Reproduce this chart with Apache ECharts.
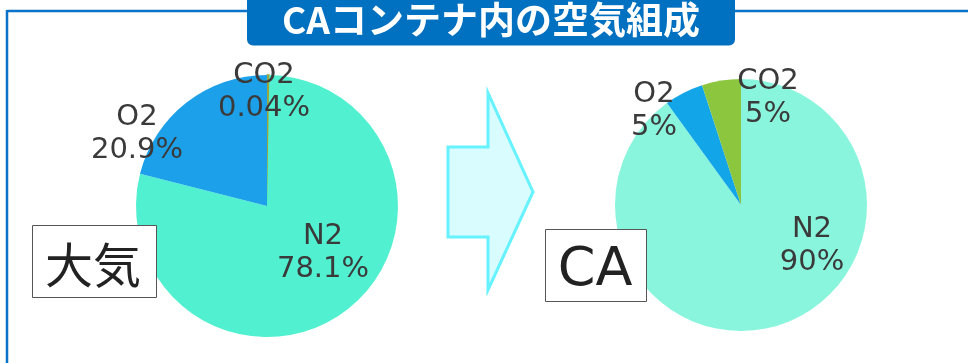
<!DOCTYPE html>
<html>
<head>
<meta charset="utf-8">
<script src="https://cdn.jsdelivr.net/npm/echarts@6/dist/echarts.min.js"></script>
<style>
html,body{margin:0;padding:0;background:#fff;}
#chart{width:968px;height:363px;}
</style>
</head>
<body>
<div id="chart"></div>
<script>
// ---- data ----
const titleText = 'CAコンテナ内の空気組成';
const airName = '大気';
const caName = 'CA';
const airGases = ['CO2', 'N2', 'O2'];
const airValues = [0.04, 78.1, 20.9];
const caGases = ['N2', 'O2', 'CO2'];
const caValues = [90, 5, 5];

// ---- styles ----
const airColors = {CO2: '#9DA43C', N2: '#50F0D0', O2: '#1CA0EA'};
const caColors = {CO2: '#8CC63E', N2: '#8AF5DD', O2: '#12A6E8'};
const airCenter = [267, 206], airRadius = 131;
const caCenter = [741, 205], caRadius = 126;
// label block centre offsets from pie centre
const airLabelOffsets = {CO2: [-3, -114], N2: [56, 47], O2: [-130, -72]};
const caLabelOffsets = {N2: [71, 41], O2: [-87, -94], CO2: [27, -107]};

const chart = echarts.init(document.getElementById('chart'), null, {renderer: 'canvas'});

function makeData(names, values, colors, thinOutline) {
  return names.map((n, i) => {
    const item = {name: n, value: values[i], itemStyle: {color: colors[n]}};
    if (thinOutline && n === thinOutline) {
      item.itemStyle.borderColor = colors[n];
      item.itemStyle.borderWidth = 1.5;
    }
    return item;
  });
}

const labelStyle = {
  show: true,
  position: 'inside',
  formatter: p => p.name + '\n' + p.value + '%',
  fontFamily: 'DejaVu Sans',
  fontSize: 29,
  lineHeight: 33,
  color: '#3a3a3a',
  align: 'center'
};

function layoutFor(center, offsets, names) {
  return function (params) {
    const o = offsets[names[params.dataIndex]];
    return {
      x: center[0] + o[0],
      y: center[1] + o[1],
      align: 'center',
      verticalAlign: 'middle'
    };
  };
}

const option = {
  backgroundColor: '#ffffff',
  animation: false,
  series: [
    {
      type: 'pie',
      center: airCenter,
      radius: airRadius,
      startAngle: 90,
      clockwise: true,
      minAngle: 1,
      silent: true,
      itemStyle: {borderWidth: 0},
      label: labelStyle,
      labelLine: {show: false},
      labelLayout: layoutFor(airCenter, airLabelOffsets, airGases),
      emphasis: {disabled: true},
      data: makeData(airGases, airValues, airColors, 'CO2'),
      z: 2
    },
    {
      type: 'pie',
      center: caCenter,
      radius: caRadius,
      startAngle: 90,
      clockwise: true,
      silent: true,
      itemStyle: {borderWidth: 0},
      label: labelStyle,
      labelLine: {show: false},
      labelLayout: layoutFor(caCenter, caLabelOffsets, caGases),
      emphasis: {disabled: true},
      data: makeData(caGases, caValues, caColors, null),
      z: 2
    }
  ],
  graphic: [
    // frame
    {type: 'line', shape: {x1: 7, y1: 11, x2: 968, y2: 11}, style: {stroke: '#0A72C8', lineWidth: 2.5}, z: 1},
    {type: 'line', shape: {x1: 7, y1: 10, x2: 7, y2: 363}, style: {stroke: '#0A72C8', lineWidth: 2.5}, z: 1},
    // title box
    {type: 'rect', shape: {x: 247, y: -10, width: 488, height: 55.5, r: 6}, style: {fill: '#0070C0'}, z: 10},
    {type: 'text', x: 491, y: 20, z: 11,
      style: {text: titleText, fill: '#ffffff', font: 'bold 37px "Noto Sans CJK JP", sans-serif', align: 'center', verticalAlign: 'middle'}},
    // arrow
    {type: 'polygon', z: 3,
      shape: {points: [[448, 147], [488, 147], [488, 93], [533, 192], [488, 290], [488, 237], [448, 237]]},
      style: {fill: '#D8FCFF', stroke: '#66F2FF', lineWidth: 3, lineJoin: 'miter'}},
    // label boxes
    {type: 'rect', z: 20, shape: {x: 32.5, y: 225.5, width: 124, height: 72}, style: {fill: '#ffffff', stroke: '#555555', lineWidth: 1}},
    {type: 'text', x: 93, y: 265, z: 21,
      style: {text: airName, fill: '#222222', font: '48px "Noto Sans CJK JP", sans-serif', align: 'center', verticalAlign: 'middle'}},
    {type: 'rect', z: 20, shape: {x: 545.5, y: 229.5, width: 101, height: 72}, style: {fill: '#ffffff', stroke: '#555555', lineWidth: 1}},
    {type: 'text', x: 595, y: 271, z: 21,
      style: {text: caName, fill: '#222222', font: '54px "DejaVu Sans", sans-serif', align: 'center', verticalAlign: 'middle'}}
  ]
};
chart.setOption(option);
</script>
</body>
</html>
